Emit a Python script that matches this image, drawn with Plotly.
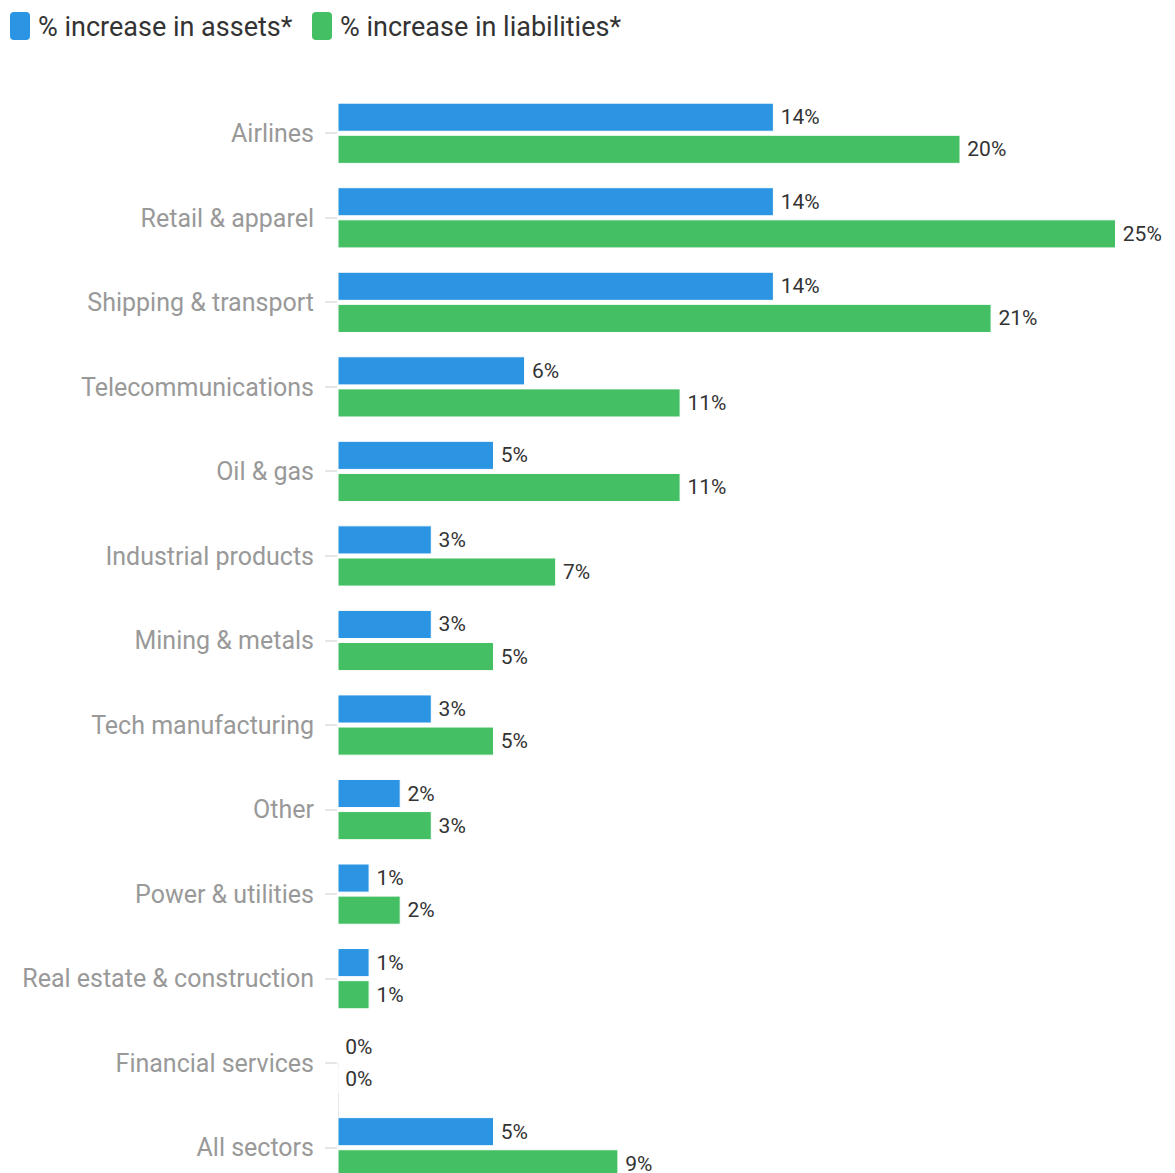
import plotly.graph_objects as go

categories = ["Airlines", "Retail & apparel", "Shipping & transport", "Telecommunications",
              "Oil & gas", "Industrial products", "Mining & metals", "Tech manufacturing",
              "Other", "Power & utilities", "Real estate & construction",
              "Financial services", "All sectors"]
assets = [14, 14, 14, 6, 5, 3, 3, 3, 2, 1, 1, 0, 5]
liabilities = [20, 25, 21, 11, 11, 7, 5, 5, 3, 2, 1, 0, 9]
series_names = ["% increase in assets*", "% increase in liabilities*"]
colors = ["#2b95e3", "#44bf63"]

W, H = 1175, 1200
ML, MR, MT, MB = 338, 5, 91, 10
PW, PH = W - ML - MR, H - MT - MB

FONT = "Roboto"

fig = go.Figure()
for name, vals, col in zip(series_names, [assets, liabilities], colors):
    fig.add_trace(go.Bar(
        y=categories, x=vals, name=name, orientation="h",
        marker=dict(color=col, line=dict(color="white", width=1)),
        text=[f"\u2009{v}%" for v in vals], textposition="outside",
        textfont=dict(family=FONT, size=21, color="#333333"),
        cliponaxis=False, constraintext="none", showlegend=False,
        hoverinfo="x+y",
    ))

def px_x(px):
    return (px - ML) / PW

def px_y(py):
    return (H - MB - py) / PH

def rounded_rect(x0, y0, x1, y1, r):
    X = px_x; Y = px_y
    return (f"M {X(x0 + r)} {Y(y0)} L {X(x1 - r)} {Y(y0)} Q {X(x1)} {Y(y0)} {X(x1)} {Y(y0 + r)} "
            f"L {X(x1)} {Y(y1 - r)} Q {X(x1)} {Y(y1)} {X(x1 - r)} {Y(y1)} "
            f"L {X(x0 + r)} {Y(y1)} Q {X(x0)} {Y(y1)} {X(x0)} {Y(y1 - r)} "
            f"L {X(x0)} {Y(y0 + r)} Q {X(x0)} {Y(y0)} {X(x0 + r)} {Y(y0)} Z")

shapes = []
annotations = []
legend_pos = [(10, 36), (312, 338)]
for (sx, tx), name, col in zip(legend_pos, series_names, colors):
    shapes.append(dict(type="path", xref="paper", yref="paper",
                       path=rounded_rect(sx, 12, sx + 20, 40, 4),
                       fillcolor=col, line=dict(width=0)))
    annotations.append(dict(xref="paper", yref="paper", x=px_x(tx), y=px_y(27),
                            xanchor="left", yanchor="middle", showarrow=False,
                            text=name, font=dict(family=FONT, size=27, color="#333333")))

# partial axis line visible near the last categories
shapes.append(dict(type="line", xref="x", yref="y", x0=0, x1=0,
                   y0=categories[-2], y1=categories[-1],
                   line=dict(color="#e6e6e6", width=2), layer="below"))

fig.update_layout(
    width=W, height=H,
    margin=dict(l=ML, r=MR, t=MT, b=MB),
    paper_bgcolor="white", plot_bgcolor="white",
    barmode="group", bargap=0.24, bargroupgap=0.125,
    shapes=shapes, annotations=annotations,
    font=dict(family=FONT),
)
fig.update_xaxes(range=[0, PW / 31.1], visible=False, fixedrange=True)
fig.update_yaxes(autorange="reversed", showgrid=False, showline=False,
                 ticks="outside", ticklen=12, tickwidth=2, tickcolor="#e6e6e6",
                 tickfont=dict(family=FONT, size=25, color="#999999"),
                 ticklabelstandoff=6, layer="below traces", fixedrange=True)

fig.write_html("out.html")
